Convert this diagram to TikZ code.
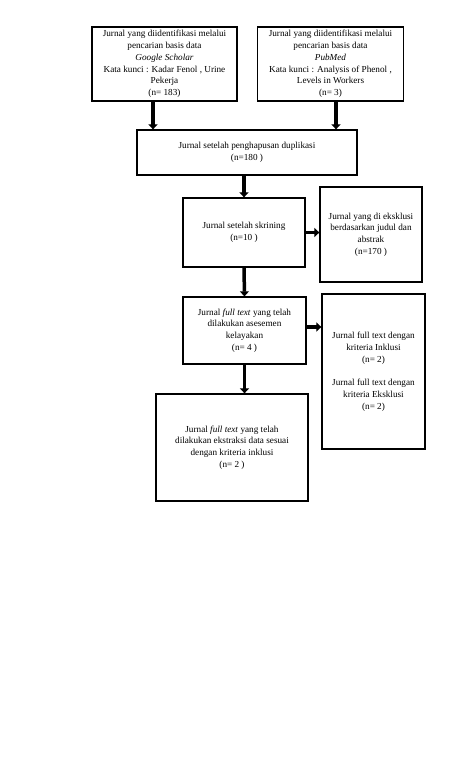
\documentclass[tikz,border=0pt]{standalone}
\usepackage{fontspec}
\setmainfont{Liberation Serif}
\usetikzlibrary{arrows.meta,calc}
\tikzset{
  boxnode/.style={draw=black, line width=1.3pt, align=center, inner sep=2pt,
    font=\fontsize{9.2}{11.8}\selectfont},
  arr/.style={line width=3.5pt, -{Triangle[width=9pt,length=5pt]}, shorten >=0pt},
}
\begin{document}
\begin{tikzpicture}[x=1pt,y=-1pt]
\useasboundingbox (0,0) rectangle (474,780);
\node[boxnode, minimum width=145pt, minimum height=74pt] (b1) at (164.5,64)
  {Jurnal yang diidentifikasi melalui\\pencarian basis data\\\textit{Google Scholar}\\Kata kunci : Kadar Fenol , Urine\\Pekerja\\(n= 183)};
\node[boxnode, minimum width=146pt, minimum height=74pt] (b2) at (330.5,64)
  {Jurnal yang diidentifikasi melalui\\pencarian basis data\\\textit{PubMed}\\Kata kunci : Analysis of Phenol ,\\Levels in Workers\\(n= 3)};
\node[boxnode, minimum width=220pt, minimum height=45pt] (b3) at (247,152.5)
  {Jurnal setelah penghapusan duplikasi\\(n=180 )};
\node[boxnode, minimum width=122pt, minimum height=69pt] (b4) at (244,232.5)
  {Jurnal setelah skrining\\(n=10 )};
\node[boxnode, minimum width=102pt, minimum height=95pt] (b5) at (371,234.5)
  {Jurnal yang di eksklusi\\berdasarkan judul dan\\abstrak\\(n=170 )};
\node[boxnode, minimum width=123pt, minimum height=67pt] (b6) at (244.5,330.5)
  {Jurnal \textit{full text} yang telah\\dilakukan asesemen\\kelayakan\\(n= 4 )};
\node[boxnode, minimum width=103pt, minimum height=155pt] (b7) at (373.5,371.5)
  {Jurnal full text dengan\\kriteria Inklusi\\(n= 2)\\[11.5pt]Jurnal full text dengan\\kriteria Eksklusi\\(n= 2)};
\node[boxnode, minimum width=152pt, minimum height=107pt] (b8) at (232,447.5)
  {Jurnal \textit{full text} yang telah\\dilakukan ekstraksi data sesuai\\dengan kriteria inklusi\\(n= 2 )};
\draw[arr] ([xshift=-11.5pt]b1.south) -- ([xshift=-11.5pt]b1.south |- b3.north);
\draw[arr] ([xshift=5.5pt]b2.south) -- ([xshift=5.5pt]b2.south |- b3.north);
\draw[arr] (b4.north |- b3.south) -- (b4.north);
\draw[arr] (b4.east) -- (b4.east -| b5.west);
\draw[arr] (b4.south) -- (b6.north);
\draw[arr] ([yshift=3.5pt]b6.east) -- ([yshift=3.5pt]b6.east -| b7.west);
\draw[arr] (b6.south) -- (b6.south |- b8.north);
\end{tikzpicture}
\end{document}
